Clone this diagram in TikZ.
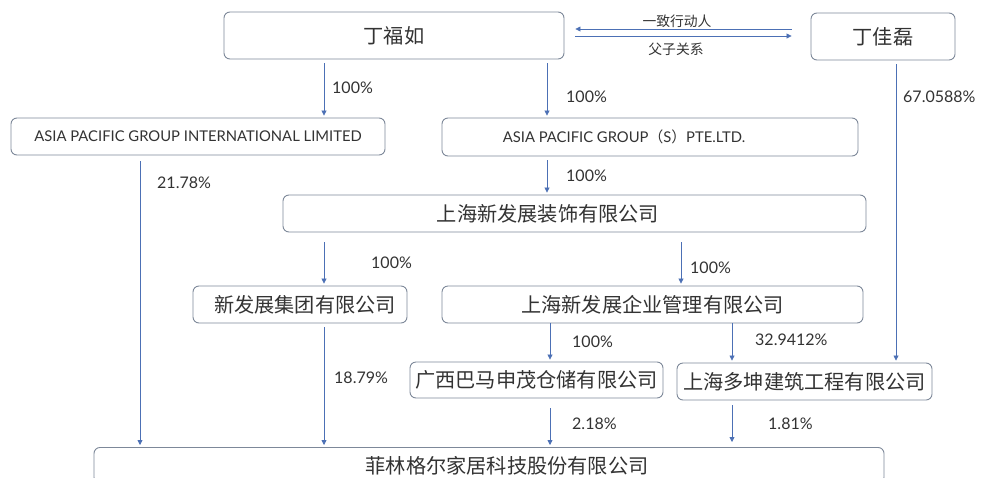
\documentclass[tikz,border=0pt]{standalone}
\usepackage{fontspec}
\setmainfont{Lato}
\newfontfamily\cjk{Noto Sans CJK SC}
\usetikzlibrary{arrows.meta}
\definecolor{boxc}{HTML}{7D8899}
\definecolor{arrc}{HTML}{4C70B5}
\definecolor{txtc}{HTML}{333333}
\begin{document}
\begin{tikzpicture}[x=1pt,y=-1pt,
  box/.style={draw=boxc, line width=0.9pt, rounded corners=6pt, inner sep=0pt, text=txtc},
  big/.style={font=\cjk\fontsize{20.2}{23}\selectfont},
  eng/.style={font=\fontsize{14.8}{17}\selectfont},
  small/.style={font=\cjk\fontsize{13.8}{15}\selectfont, text=txtc, inner sep=0pt},
  pct/.style={font=\fontsize{16}{18}\selectfont, text=txtc, anchor=west, inner sep=0pt},
  arr/.style={draw=arrc, line width=0.8pt, -{Triangle[length=5pt,width=5pt]}, shorten <=4pt, shorten >=2pt}
]
\clip (0,0) rectangle (982,477);
\fill[white] (0,0) rectangle (982,477);

% boxes
\node[box, big, minimum width=340pt, minimum height=47pt] (dfr) at (394,35.5) {丁福如};
\node[box, big, minimum width=144pt, minimum height=47pt] (djl) at (883,36.5) {丁佳磊};
\node[box, eng, minimum width=374pt, minimum height=37pt] (apgil) at (198,136.5) {ASIA PACIFIC GROUP INTERNATIONAL LIMITED};
\node[box, eng, minimum width=416pt, minimum height=38pt] (apgs) at (650,137) {\hspace*{-52pt}ASIA PACIFIC GROUP{\cjk （}S{\cjk ）}PTE.LTD.};
\node[box, big, minimum width=583pt, minimum height=37pt] (zs) at (574.5,213.5) {\hspace*{-53pt}上海新发展装饰有限公司};
\node[box, big, minimum width=214pt, minimum height=37pt] (jt) at (300,304.5) {\hspace*{10pt}新发展集团有限公司};
\node[box, big, minimum width=421pt, minimum height=37pt] (gl) at (652.5,304.5) {上海新发展企业管理有限公司};
\node[box, big, minimum width=253pt, minimum height=36pt] (gx) at (536.5,380) {广西巴马申茂仓储有限公司};
\node[box, big, minimum width=255pt, minimum height=37pt] (dk) at (804.5,381.5) {上海多坤建筑工程有限公司};
\node[box, big, minimum width=790pt, minimum height=36pt, anchor=north] (fl) at (489,447) {\hspace*{36pt}菲林格尔家居科技股份有限公司};

% relation arrows
\coordinate (r1a) at (dfr.east |- 0,29);
\coordinate (r1b) at (djl.west |- 0,29);
\coordinate (r2a) at (dfr.east |- 0,36);
\coordinate (r2b) at (djl.west |- 0,36);
\draw[draw=arrc, line width=0.8pt, {Triangle[length=5pt,width=5pt]}-, shorten <=11pt, shorten >=19pt] (r1a) -- (r1b);
\draw[draw=arrc, line width=0.8pt, -{Triangle[length=5pt,width=5pt]}, shorten <=11pt, shorten >=19pt] (r2a) -- (r2b);
\node[small] (l1) at (677,21) {一致行动人};
\node[small] (l2) at (676,49) {父子关系};

% ownership arrows
\draw[arr] (dfr.south -| 324,0) -- (apgil.north -| 324,0);
\draw[arr] (dfr.south -| 547,0) -- (apgs.north -| 547,0);
\draw[arr] (apgs.south -| 547,0) -- (zs.north -| 547,0);
\draw[arr, shorten <=6pt] (apgil.south -| 140,0) -- (fl.north -| 140,0);
\draw[arr] (djl.south -| 896,0) -- (dk.north -| 896,0);
\draw[arr, shorten <=10pt] (zs.south -| 324,0) -- (jt.north -| 324,0);
\draw[arr, shorten <=10pt] (zs.south -| 681,0) -- (gl.north -| 681,0);
\draw[arr, shorten <=0pt] (gl.south -| 550,0) -- (gx.north -| 550,0);
\draw[arr, shorten <=0pt] (gl.south -| 732,0) -- (dk.north -| 732,0);
\draw[arr] (jt.south -| 324,0) -- (fl.north -| 324,0);
\draw[arr, shorten <=10pt] (gx.south -| 550,0) -- (fl.north -| 550,0);
\draw[arr, shorten <=5pt, shorten >=5pt] (dk.south -| 732,0) -- (fl.north -| 732,0);

% percentages
\node[pct] (p1) at (332,88) {100\%};
\node[pct] (p2) at (566,97) {100\%};
\node[pct] (p3) at (566,176) {100\%};
\node[pct] (p4) at (157,183) {21.78\%};
\node[pct] (p5) at (903,97) {67.0588\%};
\node[pct] (p6) at (371,263) {100\%};
\node[pct] (p7) at (690,268) {100\%};
\node[pct] (p8) at (572,342) {100\%};
\node[pct] (p9) at (755,340) {32.9412\%};
\node[pct] (p10) at (334,378) {18.79\%};
\node[pct] (p11) at (572,424) {2.18\%};
\node[pct] (p12) at (768,424) {1.81\%};
\end{tikzpicture}
\end{document}
